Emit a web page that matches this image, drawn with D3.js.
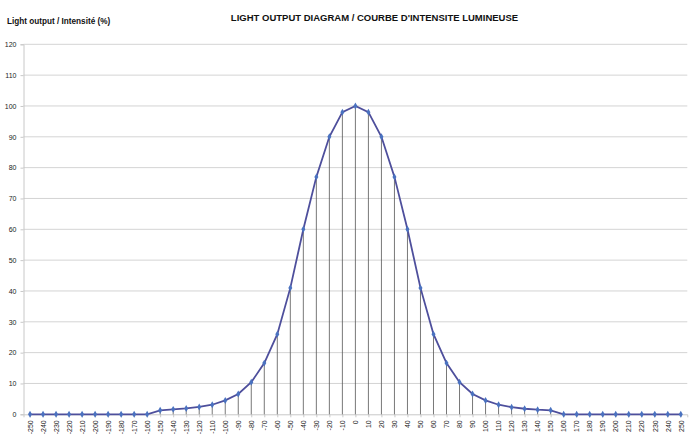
<!DOCTYPE html>
<html>
<head>
<meta charset="utf-8">
<script src="https://cdn.jsdelivr.net/npm/d3@7"></script>
<style>
body { margin: 0; background: #fff; }
svg { display: block; font-family: "Liberation Sans", Arial, sans-serif; }
</style>
</head>
<body>
<svg id="chart" width="700" height="444"></svg>
<script>
const angles = d3.range(-250, 251, 10);
const intensity = [
  0, 0, 0, 0, 0, 0, 0, 0, 0, 0,
  1.3, 1.6, 1.9, 2.4, 3.1, 4.5, 6.6, 10.4, 16.6, 26,
  41, 60, 77, 90, 98, 100, 98, 90, 77, 60,
  41, 26, 16.6, 10.4, 6.6, 4.5, 3.1, 2.3, 1.8, 1.5,
  1.3, 0, 0, 0, 0, 0, 0, 0, 0, 0, 0
];
const yTicks = d3.range(0, 121, 10);
const title = "LIGHT OUTPUT DIAGRAM / COURBE D'INTENSITE LUMINEUSE";
const yTitle = "Light output / Intensité (%)";

const data = angles.map((a, i) => ({ a, v: intensity[i] }));
const svg = d3.select("#chart");

const plotLeft = 23.5, plotRight = 687.3, plotTop = 44.3, plotBottom = 414.3;
const x = d3.scalePoint().domain(angles).range([plotLeft, plotRight]).padding(0.5);
const y = d3.scaleLinear().domain([0, 120]).range([plotBottom, plotTop]);

// gridlines
svg.append("g").selectAll("line").data(yTicks.filter(t => t > 0)).join("line")
  .attr("x1", plotLeft).attr("x2", plotRight)
  .attr("y1", d => y(d)).attr("y2", d => y(d))
  .attr("stroke", "#d4d4d4").attr("stroke-width", 1);

// y axis
const yAxis = svg.append("g").attr("transform", `translate(${plotLeft},0)`)
  .call(d3.axisLeft(y).tickValues(yTicks).tickSize(3).tickPadding(4));
yAxis.select(".domain").attr("stroke", "#c8c8c8");
yAxis.selectAll(".tick line").attr("stroke", "#c8c8c8");
yAxis.selectAll("text").attr("font-size", 7).attr("fill", "#222");

// x axis
const xAxis = svg.append("g").attr("transform", `translate(0,${plotBottom})`)
  .call(d3.axisBottom(x).tickSize(3).tickPadding(3));
xAxis.select(".domain").attr("stroke", "#c8c8c8");
xAxis.selectAll(".tick line").attr("stroke", "#c8c8c8");
xAxis.selectAll("text")
  .attr("font-size", 7).attr("fill", "#222")
  .attr("transform", "rotate(-90)")
  .attr("text-anchor", "end")
  .attr("x", -6).attr("y", 0).attr("dy", "0.32em");

// drop lines
svg.append("g").selectAll("line").data(data).join("line")
  .attr("x1", d => x(d.a)).attr("x2", d => x(d.a))
  .attr("y1", d => y(d.v)).attr("y2", y(0))
  .attr("stroke", "#555").attr("stroke-width", 0.8);

// line
svg.append("path").datum(data)
  .attr("fill", "none").attr("stroke", "#4e4f9c").attr("stroke-width", 1.8)
  .attr("d", d3.line().x(d => x(d.a)).y(d => y(d.v)));

// markers
svg.append("g").selectAll("path").data(data).join("path")
  .attr("transform", d => `translate(${x(d.a)},${y(d.v)})`)
  .attr("d", d3.symbol().type(d3.symbolDiamond).size(14))
  .attr("fill", "#4a72c0");

// titles
svg.append("text").attr("x", 374.5).attr("y", 20.5)
  .attr("text-anchor", "middle").attr("font-size", 9.5).attr("font-weight", "bold")
  .attr("fill", "#111").text(title);
svg.append("text").attr("x", 7).attr("y", 23.5)
  .attr("font-size", 8.2).attr("font-weight", "bold")
  .attr("fill", "#111").text(yTitle);
</script>
</body>
</html>
